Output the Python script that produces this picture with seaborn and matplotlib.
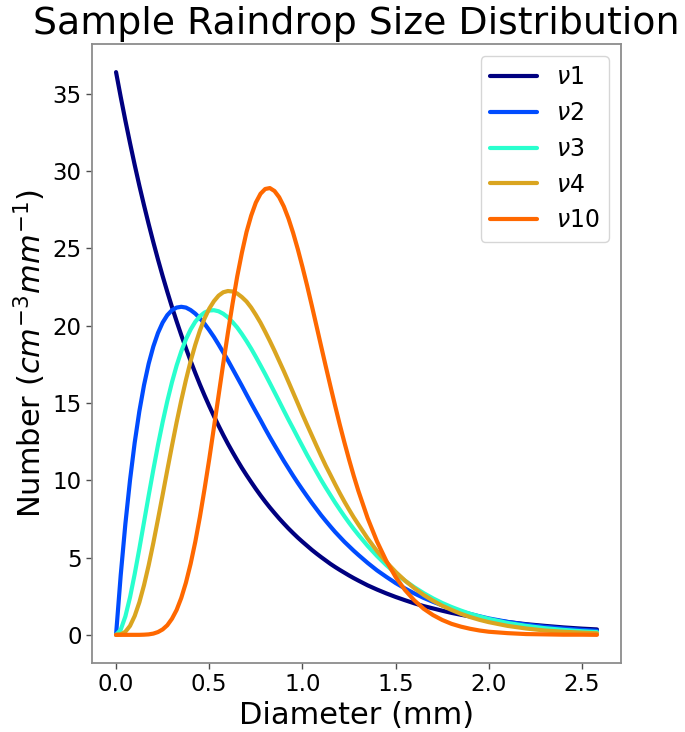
import numpy as np
import pandas as pd
import matplotlib
matplotlib.use("Agg")
import matplotlib.pyplot as plt
import seaborn as sns

# Diameter grid (mm)
diameter = [0.000, 0.025, 0.050, 0.075, 0.100, 0.125, 0.150, 0.175, 0.200, 0.225,
            0.250, 0.275, 0.300, 0.325, 0.350, 0.375, 0.400, 0.425, 0.450, 0.475,
            0.500, 0.525, 0.550, 0.575, 0.600, 0.625, 0.650, 0.675, 0.700, 0.725,
            0.750, 0.775, 0.800, 0.825, 0.850, 0.875, 0.900, 0.925, 0.950, 0.975,
            1.000, 1.025, 1.050, 1.075, 1.100, 1.125, 1.150, 1.175, 1.200, 1.225,
            1.250, 1.275, 1.300,
            1.35, 1.40, 1.45, 1.50, 1.55, 1.60, 1.65, 1.70, 1.75, 1.80,
            1.85, 1.90, 1.95, 2.00,
            2.10, 2.20, 2.30, 2.40, 2.50, 2.58]

nu1 = [36.40, 34.80, 33.27, 31.81, 30.40, 29.06, 27.79, 26.57, 25.40, 24.28,
       23.21, 22.19, 21.21, 20.28, 19.39, 18.54, 17.72, 16.94, 16.19, 15.48,
       14.80, 14.15, 13.53, 12.93, 12.36, 11.82, 11.30, 10.80, 10.33, 9.88,
       9.44, 9.02, 8.62, 8.24, 7.88, 7.53, 7.20, 6.88, 6.58, 6.29,
       6.02, 5.76, 5.50, 5.26, 5.03, 4.81, 4.59, 4.39, 4.20, 4.02,
       3.84, 3.67, 3.51,
       3.20, 2.93, 2.68, 2.45, 2.24, 2.04, 1.86, 1.71, 1.56, 1.42,
       1.30, 1.19, 1.09, 0.99,
       0.83, 0.69, 0.58, 0.48, 0.40, 0.35]

nu2 = [0.00, 3.85, 7.17, 10.01, 12.43, 14.46, 16.15, 17.54, 18.65, 19.53,
       20.20, 20.68, 21.00, 21.17, 21.22, 21.17, 21.01, 20.78, 20.48, 20.12,
       19.71, 19.27, 18.78, 18.27, 17.76, 17.21, 16.66, 16.11, 15.54, 14.98,
       14.43, 13.89, 13.33, 12.79, 12.27, 11.76, 11.25, 10.77, 10.29, 9.83,
       9.39, 8.96, 8.54, 8.14, 7.74, 7.37, 7.01, 6.66, 6.34, 6.02,
       5.73, 5.44, 5.17,
       4.65, 4.17, 3.75, 3.35, 3.00, 2.68, 2.39, 2.14, 1.91, 1.70,
       1.51, 1.35, 1.20, 1.06,
       0.84, 0.66, 0.52, 0.41, 0.32, 0.26]

nu3 = [0.00, 0.33, 1.19, 2.43, 3.93, 5.57, 7.29, 9.01, 10.68, 12.28,
       13.76, 15.12, 16.34, 17.42, 18.34, 19.12, 19.75, 20.25, 20.61, 20.85,
       20.98, 21.00, 20.93, 20.77, 20.54, 20.23, 19.88, 19.46, 19.00, 18.51,
       17.98, 17.43, 16.87, 16.29, 15.70, 15.11, 14.51, 13.92, 13.35, 12.77,
       12.20, 11.63, 11.09, 10.55, 10.02, 9.52, 9.04, 8.56, 8.11, 7.67,
       7.25, 6.85, 6.47,
       5.75, 5.10, 4.51, 3.98, 3.50, 3.08, 2.70, 2.36, 2.06, 1.80,
       1.57, 1.36, 1.19, 1.03,
       0.77, 0.58, 0.43, 0.32, 0.23, 0.18]

nu4 = [0.00, 0.03, 0.20, 0.58, 1.22, 2.10, 3.21, 4.50, 5.94, 7.48,
       9.06, 10.66, 12.23, 13.75, 15.17, 16.49, 17.70, 18.76, 19.69, 20.47,
       21.10, 21.58, 21.94, 22.16, 22.24, 22.21, 22.08, 21.85, 21.56, 21.17,
       20.70, 20.19, 19.61, 19.01, 18.38, 17.72, 17.06, 16.37, 15.67, 14.97,
       14.26, 13.58, 12.91, 12.24, 11.58, 10.94, 10.35, 9.75, 9.17, 8.62,
       8.10, 7.60, 7.14,
       6.23, 5.42, 4.71, 4.07, 3.51, 3.02, 2.58, 2.21, 1.88, 1.61,
       1.36, 1.15, 0.97, 0.82,
       0.58, 0.41, 0.28, 0.20, 0.14, 0.10]

nu10 = [0.00, 0.00, 0.00, 0.00, 0.00, 0.00, 0.01, 0.03, 0.08, 0.18,
        0.35, 0.62, 1.04, 1.61, 2.39, 3.38, 4.59, 6.01, 7.64, 9.45,
        11.37, 13.41, 15.48, 17.54, 19.53, 21.42, 23.18, 24.71, 26.06, 27.12,
        27.96, 28.53, 28.84, 28.90, 28.71, 28.31, 27.71, 26.93, 26.00, 24.95,
        23.80, 22.59, 21.31, 20.00, 18.68, 17.37, 16.09, 14.83, 13.61, 12.45,
        11.34, 10.29, 9.31,
        7.54, 6.04, 4.78, 3.74, 2.90, 2.23, 1.69, 1.28, 0.96, 0.71,
        0.53, 0.39, 0.28, 0.20,
        0.11, 0.05, 0.03, 0.01, 0.01, 0.00]

series_labels = [r"$\nu1$", r"$\nu2$", r"$\nu3$", r"$\nu4$", r"$\nu10$"]
series_values = [nu1, nu2, nu3, nu4, nu10]
series_colors = ["#000080", "#004CFF", "#29FFCE", "#DAA520", "#FF6800"]

sns.set_style("ticks", {"axes.edgecolor": "0.55", "xtick.color": "0.3",
                        "ytick.color": "0.3", "text.color": "black",
                        "axes.labelcolor": "black"})
plt.rcParams["font.family"] = ["DejaVu Sans"]

fig = plt.figure(figsize=(6.85, 7.32), dpi=100)
ax = fig.add_axes([0.1343, 0.0943, 0.7723, 0.8456])

for lab, vals, col in zip(series_labels, series_values, series_colors):
    df = pd.DataFrame({"Diameter": diameter, "Number": vals})
    sns.lineplot(data=df, x="Diameter", y="Number", ax=ax, color=col,
                 linewidth=3, label=lab)

for s in ax.spines.values():
    s.set_linewidth(1.3)
    s.set_color("0.55")

ax.set_xticks([0.0, 0.5, 1.0, 1.5, 2.0, 2.5])
ax.set_yticks([0, 5, 10, 15, 20, 25, 30, 35])
ax.tick_params(axis="both", labelsize=16.5, labelcolor="black", length=4, width=1)

ax.set_title("Sample Raindrop Size Distribution", fontsize=27.3, pad=7,
             color="black")
ax.set_xlabel("Diameter (mm)", fontsize=22, labelpad=3, color="black")
ax.set_ylabel(r"Number ($cm^{-3}mm^{-1}$)", fontsize=22, labelpad=3,
              color="black")

leg = ax.legend(loc="upper right", fontsize=17)
for t in leg.get_texts():
    t.set_color("black")

fig.savefig("out.png", dpi=100)
